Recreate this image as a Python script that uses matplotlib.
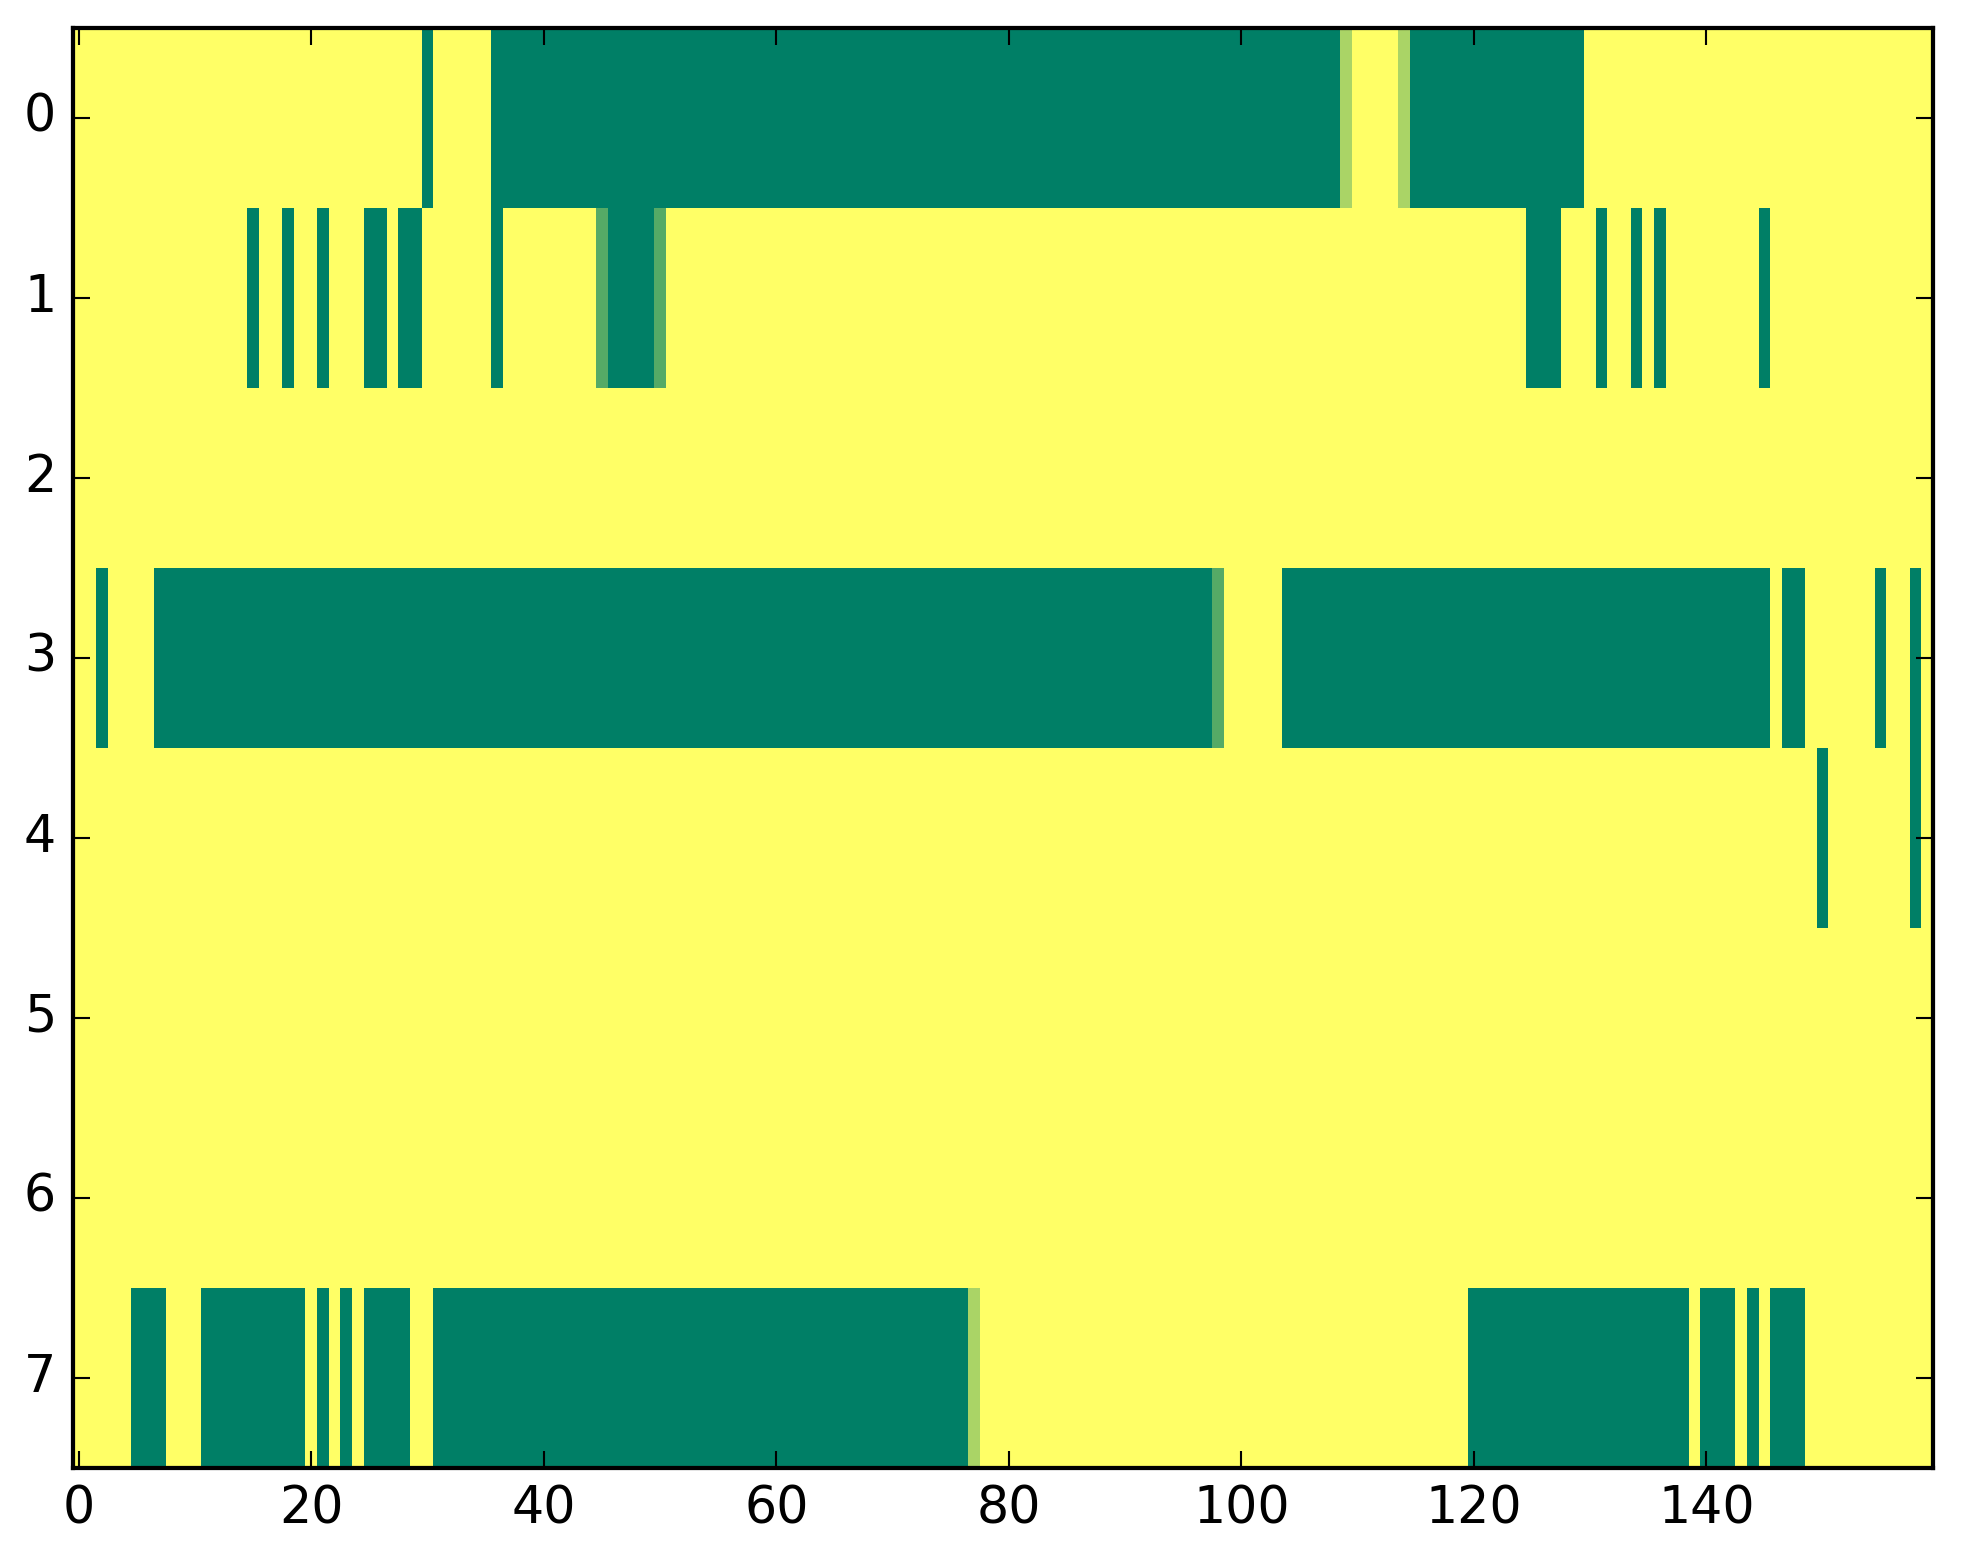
import numpy as np
import matplotlib
matplotlib.use('Agg')
import matplotlib.pyplot as plt

# each row: runs of (first column, last column, value); everything else is 0
n_cols = 160
row0 = [(30, 30, 1), (36, 108, 1), (109, 109, 1/3), (114, 114, 1/3), (115, 129, 1)]
row1 = [(15, 15, 1), (18, 18, 1), (21, 21, 1), (25, 26, 1), (28, 29, 1), (36, 36, 1),
        (45, 45, 2/3), (46, 49, 1), (50, 50, 2/3), (125, 127, 1), (131, 131, 1),
        (134, 134, 1), (136, 136, 1), (145, 145, 1)]
row2 = []
row3 = [(2, 2, 1), (7, 97, 1), (98, 98, 2/3), (104, 145, 1), (147, 148, 1),
        (155, 155, 1), (158, 158, 1)]
row4 = [(150, 150, 1), (158, 158, 1)]
row5 = []
row6 = []
row7 = [(5, 7, 1), (11, 19, 1), (21, 21, 1), (23, 23, 1), (25, 28, 1), (31, 76, 1),
        (77, 77, 1/3), (120, 138, 1), (140, 142, 1), (144, 144, 1), (146, 148, 1)]
rows = [row0, row1, row2, row3, row4, row5, row6, row7]

data = np.zeros((len(rows), n_cols))
for i, runs in enumerate(rows):
    for a, b, v in runs:
        data[i, a:b + 1] = v

plt.style.use('classic')
dpi = 304
fig = plt.figure(figsize=(1963 / dpi, 1564 / dpi), dpi=dpi)
ax = fig.add_axes([73 / 1963, 96 / 1564, (1933 - 73) / 1963, (1468 - 28) / 1564])
ax.imshow(data, cmap='summer_r', vmin=0, vmax=1, aspect='auto',
          interpolation='nearest')
ax.set_xticks(np.arange(0, 160, 20))
ax.set_yticks(np.arange(0, 8))
ax.set_xlim(-0.5, n_cols - 0.5)
ax.set_ylim(len(rows) - 0.5, -0.5)

fig.savefig('out.png', dpi=dpi)
